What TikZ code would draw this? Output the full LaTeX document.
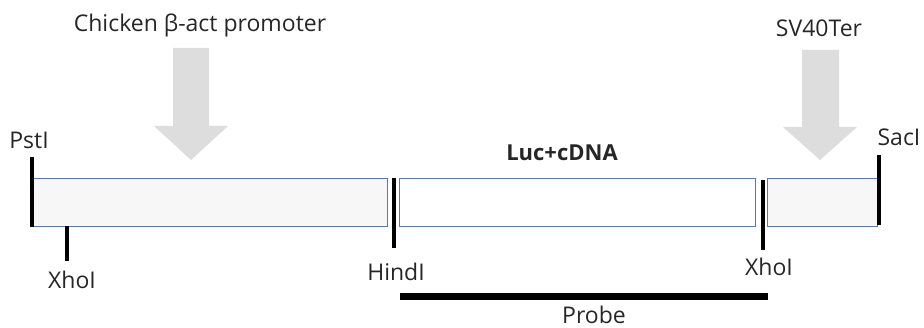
\documentclass[tikz,border=0pt]{standalone}
\usepackage{fontspec}
\setmainfont{Open Sans}
\definecolor{boxline}{HTML}{5B78AE}
\definecolor{boxfill}{HTML}{F7F7F7}
\definecolor{arrowgray}{HTML}{DDDDDD}
\begin{document}
\begin{tikzpicture}[x=1pt,y=-1pt,
  seg/.style={draw=boxline,line width=1.2pt,inner sep=0pt,anchor=north west},
  site/.style={line width=4.5pt,black},
  lbl/.style={inner sep=0pt,anchor=base,font=\fontsize{23}{26}\selectfont,text=black!85},
  bigarrow/.style={fill=arrowgray,draw=none}]
\useasboundingbox (0,0) rectangle (924,328);
% segments
\node[seg,fill=boxfill,minimum width=354pt,minimum height=48pt] (prom) at (33,178) {};
\node[seg,fill=white,minimum width=356pt,minimum height=48pt] (luc) at (399,178) {};
\node[seg,fill=boxfill,minimum width=110pt,minimum height=48pt] (sv) at (767,178) {};
% sites
\coordinate (pstT) at (32,157); \coordinate (pstB) at (32,227);
\coordinate (xho1T) at (67,226); \coordinate (xho1B) at (67,261);
\coordinate (hinT) at (394,178); \coordinate (hinB) at (394,248);
\coordinate (xho2T) at (763,180); \coordinate (xho2B) at (763,250);
\coordinate (sacT) at (879,155); \coordinate (sacB) at (879,225);
\draw[site] (pstT) -- (pstB);
\draw[site] (xho1T) -- (xho1B);
\draw[site] (hinT) -- (hinB);
\draw[site] (xho2T) -- (xho2B);
\draw[site] (sacT) -- (sacB);
% probe
\coordinate (probeL) at (400,297); \coordinate (probeR) at (768,297);
\draw[line width=7pt] (probeL) -- (probeR);
% big arrows
\fill[bigarrow] (173,48) -- (209,48) -- (209,126) -- (228,126) -- (191,160) -- (154,126) -- (173,126) -- cycle;
\fill[bigarrow] (802,50) -- (839,50) -- (839,127) -- (857,127) -- (820,160) -- (783,127) -- (802,127) -- cycle;
% labels
\node[lbl] (tprom) at (200,32) {Chicken β-act promoter};
\node[lbl] (tsv) at (819,37) {SV40Ter};
\node[lbl] (tpst) at (29,149) {PstI};
\node[lbl] (tsac) at (899,146) {SacI};
\node[lbl,font=\fontsize{22}{26}\selectfont\bfseries] (tluc) at (562,161) {Luc+cDNA};
\node[lbl] (txho1) at (72,289) {XhoI};
\node[lbl] (thin) at (396,281) {HindI};
\node[lbl] (txho2) at (769,276) {XhoI};
\node[lbl] (tprobe) at (594,324) {Probe};
\end{tikzpicture}
\end{document}
